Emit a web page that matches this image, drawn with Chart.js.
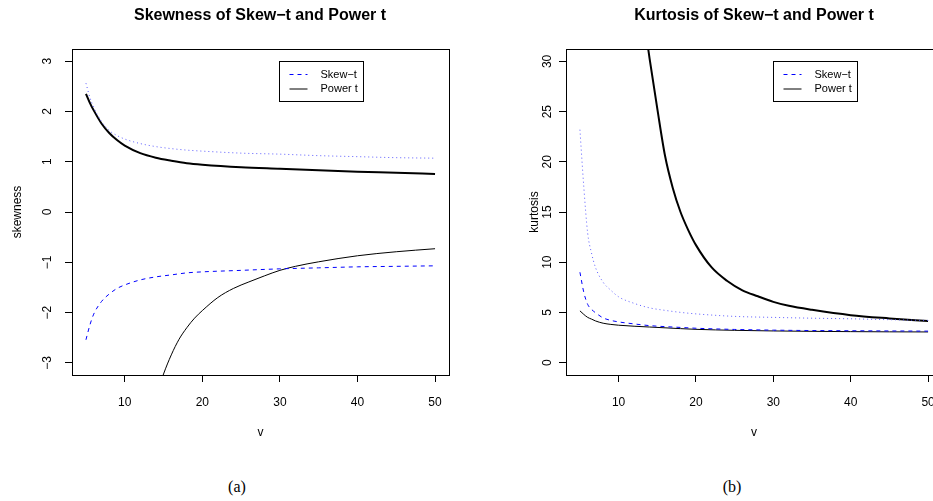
<!DOCTYPE html>
<html>
<head>
<meta charset="utf-8">
<script src="https://cdn.jsdelivr.net/npm/chart.js@4.4.0/dist/chart.umd.min.js"></script>
<style>
  body { margin: 0; background: #fff; width: 933px; height: 501px; overflow: hidden; position: relative; }
  canvas { position: absolute; top: 0; }
  #skewChart { left: 0; }
  #kurtChart { left: 470px; }
  .main { position: absolute; top: 6px; line-height: 20px; font: bold 16px "Liberation Sans", Arial, sans-serif; transform: translateX(-50%); white-space: nowrap; }
  .cap { position: absolute; top: 478px; line-height: 20px; font: 16px "Liberation Serif", "Times New Roman", serif; transform: translateX(-50%); }
</style>
</head>
<body>
<canvas id="skewChart" width="466" height="460"></canvas>
<canvas id="kurtChart" width="500" height="460"></canvas>
<div class="main" style="left:260px">Skewness of Skew−t and Power t</div>
<div class="main" style="left:754px">Kurtosis of Skew−t and Power t</div>
<div class="cap" style="left:237px">(a)</div>
<div class="cap" style="left:732px">(b)</div>
<script>
const FONT = '"Liberation Sans", Arial, sans-serif'

// tick labels
const xTicks = [10, 20, 30, 40, 50]
const skewTicks = [-3, -2, -1, 0, 1, 2, 3]
const kurtTicks = [0, 5, 10, 15, 20, 25, 30]
const legendLabels = ['Skew\u2212t', 'Power t']

// skewness panel (a)
const vSkew = [5, 5.5, 6, 7, 8, 9, 10, 12, 14, 16, 18, 20, 25, 30, 35, 40, 45, 50]
const skewStPos = [2.56, 2.28, 2.08, 1.80, 1.62, 1.52, 1.45, 1.36, 1.30, 1.26, 1.23, 1.21, 1.17, 1.15, 1.12, 1.10, 1.08, 1.07]
const skewStNeg = [-2.54, -2.25, -2.03, -1.78, -1.63, -1.52, -1.45, -1.35, -1.29, -1.25, -1.21, -1.19, -1.16, -1.13, -1.11, -1.09, -1.08, -1.07]
const skewPtPos = [2.35, 2.17, 2.02, 1.76, 1.57, 1.43, 1.32, 1.17, 1.08, 1.02, 0.97, 0.94, 0.89, 0.86, 0.83, 0.80, 0.78, 0.755]
const vSkewPtNeg = [14.5, 15, 16, 17, 18, 19, 20, 22, 24, 26, 28, 30, 32, 35, 40, 45, 50]
const skewPtNeg = [-3.45, -3.22, -2.84, -2.53, -2.30, -2.11, -1.96, -1.70, -1.52, -1.39, -1.27, -1.16, -1.08, -0.99, -0.87, -0.79, -0.73]

// kurtosis panel (b)
const vKurt = [5, 5.5, 6, 6.5, 7, 8, 9, 10, 12, 14, 16, 18, 20, 25, 30, 35, 40, 45, 50]
const kurtStA = [23.2, 17.5, 12.9, 10.9, 9.5, 8.0, 7.2, 6.55, 5.9, 5.45, 5.2, 5.0, 4.85, 4.6, 4.5, 4.42, 4.36, 4.27, 4.2]
const kurtStB = [9.0, 7.0, 5.8, 5.3, 4.97, 4.45, 4.2, 4.05, 3.85, 3.68, 3.58, 3.5, 3.42, 3.3, 3.23, 3.19, 3.17, 3.15, 3.13]
const kurtPtB = [5.15, 4.8, 4.5, 4.33, 4.15, 3.92, 3.8, 3.72, 3.62, 3.54, 3.46, 3.38, 3.31, 3.21, 3.15, 3.11, 3.08, 3.06, 3.05]
const vKurtPtA = [13.8, 14, 15, 16, 17, 18, 19, 20, 22, 24, 26, 28, 30, 32, 35, 40, 45, 50]
const kurtPtA = [31.4, 30.3, 25.3, 20.6, 17.4, 15.0, 13.2, 11.7, 9.5, 8.15, 7.2, 6.6, 6.05, 5.65, 5.25, 4.72, 4.4, 4.14]

const zip = (xs, ys) => xs.map((x, i) => ({ x: x, y: ys[i] }))

function curve(xs, ys, color, width, dash) {
    return {
        data: zip(xs, ys),
        borderColor: color,
        borderWidth: width,
        borderDash: dash,
        pointRadius: 0,
        fill: false,
        cubicInterpolationMode: 'monotone'
    }
}

const fmt = v => v < 0 ? '\u2212' + Math.abs(v) : String(v)

// box round the plot, rotated y labels and the legend, R style
const rStyle = {
    id: 'rStyle',
    afterDraw(chart, args, opts) {
        const ctx = chart.ctx
        const a = chart.chartArea
        const y = chart.scales.y
        ctx.save()
        ctx.strokeStyle = '#000'
        ctx.lineWidth = 1
        ctx.setLineDash([])
        ctx.strokeRect(Math.round(a.left) + 0.5, Math.round(a.top) + 0.5, Math.round(a.right - a.left), Math.round(a.bottom - a.top))

        ctx.font = '12px ' + FONT
        ctx.fillStyle = '#000'
        ctx.textAlign = 'center'
        ctx.textBaseline = 'alphabetic'
        y.ticks.forEach(t => {
            ctx.save()
            ctx.translate(a.left - opts.labelOffset, y.getPixelForValue(t.value))
            ctx.rotate(-Math.PI / 2)
            ctx.fillText(fmt(t.value), 0, 0)
            ctx.restore()
        })

        // legend
        const lx = Math.round(a.left + 0.55 * (a.right - a.left)) + 0.5
        const ly = Math.round(a.top + 12) + 0.5
        ctx.strokeRect(lx, ly, 84, 40)
        ctx.font = '11px ' + FONT
        ctx.textAlign = 'left'
        ctx.textBaseline = 'middle'
        const rows = [
            { color: '#0000ff', dash: [4, 4] },
            { color: '#000', dash: [] }
        ]
        rows.forEach((r, i) => {
            const ry = ly + 13 + i * 14.5
            ctx.strokeStyle = r.color
            ctx.setLineDash(r.dash)
            ctx.beginPath()
            ctx.moveTo(lx + 10, ry)
            ctx.lineTo(lx + 28, ry)
            ctx.stroke()
            ctx.fillText(legendLabels[i], lx + 41, ry)
        })
        ctx.restore()
    }
}

function makePanel(id, p) {
    const ctx = document.getElementById(id).getContext('2d')
    return new Chart(ctx, {
        type: 'line',
        data: { datasets: p.datasets },
        plugins: [rStyle],
        options: {
            responsive: false,
            animation: false,
            layout: { padding: { top: 49, right: p.padRight, bottom: 0, left: 0 } },
            plugins: {
                legend: { display: false },
                tooltip: { enabled: false },
                rStyle: { labelOffset: p.labelOffset }
            },
            scales: {
                x: {
                    type: 'linear',
                    min: 3.2,
                    max: 51.8,
                    afterBuildTicks: s => { s.ticks = xTicks.map(v => ({ value: v })) },
                    afterFit: s => { s.height = 85 },
                    grid: { drawOnChartArea: false, drawTicks: true, tickLength: 7, tickColor: '#000', color: '#000' },
                    border: { display: false },
                    ticks: { color: '#000', font: { size: 12, family: FONT }, padding: 13, maxRotation: 0 },
                    title: { display: true, text: 'v', color: '#000', font: { size: 12, family: FONT }, padding: { top: 0, bottom: 20 } }
                },
                y: {
                    type: 'linear',
                    min: p.yMin,
                    max: p.yMax,
                    afterBuildTicks: s => { s.ticks = p.yTicks.map(v => ({ value: v })) },
                    afterFit: s => { s.width = p.yWidth },
                    grid: { drawOnChartArea: false, drawTicks: true, tickLength: 7, tickColor: '#000', color: '#000' },
                    border: { display: false },
                    ticks: { display: false },
                    title: { display: true, text: p.yTitle, color: '#000', font: { size: 12, family: FONT }, padding: { top: p.yTitlePad, bottom: 0 } }
                }
            }
        }
    })
}

makePanel('skewChart', {
    yMin: -3.24, yMax: 3.24, yTicks: skewTicks, yWidth: 72, padRight: 17,
    yTitle: 'skewness', yTitlePad: 10.8, labelOffset: 21,
    datasets: [
        curve(vSkew, skewStPos, '#5a5aff', 1, [1, 3]),
        curve(vSkew, skewStNeg, '#0000ff', 1, [4, 4]),
        curve(vSkew, skewPtPos, '#000', 2, []),
        curve(vSkewPtNeg, skewPtNeg, '#000', 1, [])
    ]
})

makePanel('kurtChart', {
    yMin: -1.24, yMax: 31.24, yTicks: kurtTicks, yWidth: 96, padRight: 28,
    yTitle: 'kurtosis', yTitlePad: 57.5, labelOffset: 15,
    datasets: [
        curve(vKurt, kurtStA, '#5a5aff', 1, [1, 3]),
        curve(vKurt, kurtStB, '#0000ff', 1, [4, 4]),
        curve(vKurtPtA, kurtPtA, '#000', 2, []),
        curve(vKurt, kurtPtB, '#000', 1, [])
    ]
})
</script>
</body>
</html>
